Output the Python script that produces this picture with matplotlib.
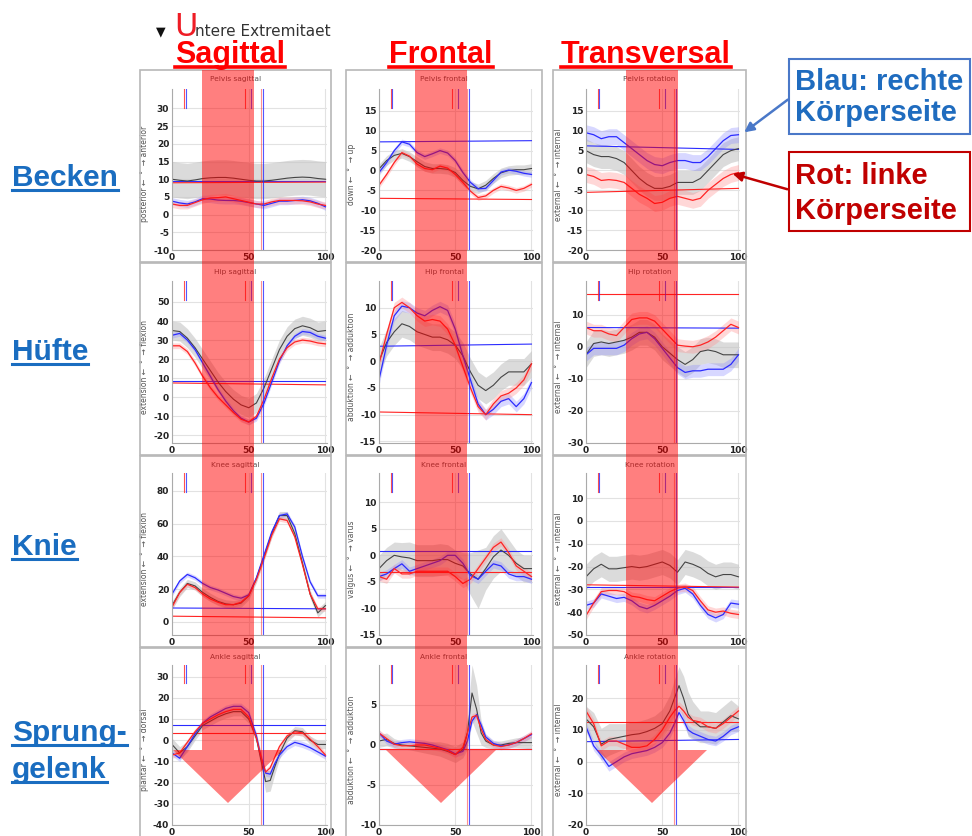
import numpy as np
import matplotlib.pyplot as plt
from matplotlib.patches import Rectangle, Polygon, FancyArrowPatch
from matplotlib.lines import Line2D

plt.rcParams['axes.unicode_minus'] = False

W, H = 972, 836


def fx(px):
    return px / W


def fy(py):
    return 1 - py / H


# gait cycle (%) sample points
pct = list(range(0, 101, 5))
pct_ank = [0, 5, 10, 15, 20, 25, 30, 35, 40, 45, 50, 55, 58, 61, 64, 67, 70, 75, 80, 85, 90, 95, 100]

# events (% gait cycle)
ev_short_left = [7.8, 47.8]
ev_short_right = [8.8, 51.8]
ev_full_left = 57.8
ev_full_right = 59.0

# ---- Pelvis ----
ps_norm = [10, 9.7, 9.5, 9.8, 10.2, 10.4, 10.5, 10.5, 10.3, 10, 9.7, 9.5, 9.5, 9.7, 10, 10.3, 10.5, 10.6, 10.5, 10.2, 10]
ps_right = [3.8, 3.3, 3.0, 3.6, 4.5, 4.4, 4.1, 4.0, 4.0, 3.8, 3.4, 3.0, 2.6, 3.2, 3.8, 3.8, 4.0, 4.2, 3.9, 3.2, 2.2]
ps_left = [3.0, 2.6, 2.6, 3.4, 4.2, 4.7, 4.8, 5.0, 4.5, 4.0, 3.5, 3.0, 3.0, 3.6, 4.0, 4.0, 4.0, 3.9, 3.6, 3.0, 2.6]

pf_norm = [0.4, 2.5, 3.8, 4.3, 3.5, 2.2, 1.0, 0.5, 0.5, 0.3, -0.5, -2.5, -4.0, -4.6, -3.7, -2.0, -0.6, 0.0, 0.2, 0.2, 0.5]
pf_right = [-0.5, 2.0, 5.0, 7.2, 6.6, 4.5, 3.5, 4.2, 5.0, 4.4, 2.5, -0.5, -3.0, -4.6, -4.5, -2.5, -0.4, 0.1, -0.2, -0.7, -1.0]
pf_left = [-3.7, -1.0, 2.0, 4.5, 3.6, 1.6, 0.5, 0.2, 1.1, 0.6, -1.0, -3.0, -5.2, -6.8, -6.4, -5.0, -4.0, -4.4, -5.0, -4.5, -3.5]

pr_norm = [5.0, 4.0, 3.5, 3.5, 3.0, 2.0, 0.0, -2.0, -3.5, -4.5, -4.5, -4.0, -3.0, -3.0, -3.0, -2.0, 0.0, 2.0, 4.0, 5.0, 5.5]
pr_right = [9.5, 9.0, 8.0, 8.5, 8.5, 7.0, 5.5, 4.0, 2.5, 1.5, 1.2, 2.0, 2.5, 2.5, 2.0, 2.0, 3.5, 5.5, 7.5, 8.8, 9.0]
pr_left = [-1.0, -1.5, -2.5, -2.3, -2.5, -3.0, -4.5, -6.0, -7.0, -8.3, -8.0, -7.0, -6.5, -7.0, -7.5, -7.0, -5.0, -3.5, -2.0, -1.0, -0.5]

# ---- Hip ----
hs_norm = [35, 34.5, 31, 26, 20, 14, 8, 3, -1, -4, -5.5, -3, 5, 15, 25, 32, 36, 37.5, 36.5, 34.5, 35]
hs_right = [32.5, 33.5, 30, 25, 18, 11, 4, -2, -7, -11, -13, -11, -3, 8, 19, 27, 32, 34.5, 34, 32, 31]
hs_left = [27, 27, 24, 18, 11, 5, 0, -4, -8, -11.5, -13, -10, -1, 10, 20, 26, 29, 30, 29.5, 28.5, 28]

hf_norm = [0, 3.5, 5.5, 7, 6.5, 5.5, 5, 4.5, 4.5, 4, 3, 1, -2, -4.5, -5.5, -4.5, -3, -2, -2, -2, -0.5]
hf_right = [-3.5, 3, 8.5, 10.3, 10, 9, 8.5, 9.5, 10.2, 9.5, 6, 1, -3.5, -8, -10, -9, -7.5, -7, -8.5, -7, -4]
hf_left = [-0.5, 5, 10, 11, 10, 8.5, 7.5, 7.8, 7.5, 6, 3, -1, -5, -8.5, -10, -8, -6.5, -6, -5, -3.5, -0.5]

hr_norm = [-2.5, 1, 1.5, 1, 1.5, 2, 3, 4.5, 4.5, 3, 0, -2, -4, -5.5, -4, -1.5, -1, -1.5, -2.5, -2.5, -2.5]
hr_right = [-2.5, -0.5, -0.5, -0.5, -0.5, 0.5, 2.5, 4, 4.5, 2.5, -0.5, -3.5, -6.5, -8, -7.5, -7.5, -7, -7, -7, -5.5, -2.5]
hr_left = [6, 5, 5, 4, 3.5, 6, 8.5, 9, 9, 8, 5.5, 3, 0.5, 0.2, 0, 0.5, 1.5, 3, 5, 7, 6]

# ---- Knee ----
ks_norm = [10, 18, 23.5, 22, 18, 15, 12.5, 11, 10.5, 11.5, 16, 26.5, 40, 54, 65, 65, 54, 36, 17, 5.5, 10]
ks_right = [17, 25, 29, 27, 23.5, 21, 19.5, 17.5, 15.5, 14.5, 16.5, 27, 41, 55, 65, 66, 58, 40, 24.5, 16, 16]
ks_left = [9, 18, 23, 21, 17, 14, 12, 10.5, 10.5, 12, 16, 26, 39, 53, 63, 62, 52, 35, 17, 8, 8]

kf_norm = [-2.5, -1, 0, -0.3, -0.5, -1, -1, -1, -0.8, -0.8, -1.5, -2, -3.5, -4.5, -2.5, -0.3, 1, 0, -1.5, -2.5, -2.5]
kf_norm_sd = [2.5, 2.5, 2.5, 2.7, 3, 3, 3, 3, 3, 2.8, 2.5, 2.5, 4, 5.5, 4, 4, 4, 3, 2.5, 2.5, 2.5]
kf_right = [-4, -3.5, -2.5, -1.6, -3, -2.5, -2, -1.5, -1, 0, 0, -1.5, -3.8, -4.5, -3, -1.6, -2, -3.5, -4, -4, -4.5]
kf_left = [-4, -4.5, -2.5, -3.5, -3.5, -3, -3, -3, -3, -3, -4, -5.3, -4.5, -2.5, -0.5, 1.5, 2.5, 0.5, -2, -3, -4]

kr_norm = [-24.5, -21, -19, -21, -21, -20.5, -20, -20.5, -20, -19, -18, -19.5, -22.5, -18, -19, -20.5, -23, -24.5, -23.5, -23.5, -24.5]
kr_right = [-37, -36, -32, -33, -34, -33.5, -35, -37.5, -38.5, -37, -35, -33, -30.5, -29.5, -32, -37, -41, -42.5, -41, -36, -36.5]
kr_left = [-41.5, -36, -31, -30.5, -30.5, -31, -33, -33.5, -34.5, -35, -33, -31, -29.5, -29, -30.5, -35, -39, -40, -39.5, -40.5, -41]

# ---- Ankle (denser around toe off) ----
as_norm = [-2, -6, -3, 2, 7, 9, 11, 12.5, 13.5, 13.5, 10, 1, -9.5, -19.5, -19, -12.5, -6.5, 1, 4.5, 4, 0, -2, -2]
as_norm_sd = [3, 3, 2.5, 2, 2, 2, 2, 2, 2, 2, 2, 2.5, 3.5, 5, 5, 3.5, 2.5, 2, 2, 2, 2, 2, 2]
as_right = [-6, -8.5, -3, 3, 8, 11, 13, 15, 16, 16, 13, 2, -8, -15.5, -16, -11, -7, -3, -1, -2, -3.5, -5.5, -7.5]
as_left = [-7, -6, -1, 4, 8, 10, 12, 13.5, 14.5, 14.5, 11, 1, -8, -15, -13, -8, -3, 2, 4, 3.5, 0.5, -3, -7]

af_norm = [0.5, 0.7, 0.2, 0.0, -0.1, -0.2, -0.3, -0.4, -0.5, -0.8, -1.2, -0.6, 1.5, 6.5, 4.5, 1.5, 0.5, 0, 0, 0.2, 0.3, 0.3, 0.3]
af_norm_sd = [0.8, 0.8, 0.6, 0.5, 0.5, 0.6, 0.7, 0.8, 0.9, 1.0, 1.0, 1.0, 2.0, 3.5, 3.0, 1.5, 0.8, 0.5, 0.5, 0.5, 0.6, 0.7, 0.8]
af_right = [1.5, 0.5, 0.1, 0.3, 0.4, 0.3, 0.2, 0, -0.3, -0.6, -1.1, -0.8, 0.5, 3, 3.8, 2.5, 1, 0.2, -0.1, 0, 0.3, 0.8, 1.3]
af_left = [1.5, 0.8, 0.1, -0.1, -0.1, 0, 0, -0.2, -0.4, -0.7, -1.2, -0.3, 1.5, 3.5, 3.7, 2, 0.7, 0, -0.2, 0, 0.3, 0.8, 1.4]

ar_norm = [13.5, 11, 5.5, 7, 7.5, 8, 8.5, 8.8, 9.5, 10.5, 12, 16, 20, 24, 20, 15, 13, 11, 11, 10.5, 12.5, 14.5, 13.5]
ar_norm_sd = [4, 4.5, 5, 5, 4.5, 4, 4, 4, 4, 4, 4.5, 5, 6, 6, 7, 7, 6, 5, 5, 5, 5, 5, 4]
ar_right = [11, 5, 2, -1.5, 0, 1.5, 2.5, 3, 3.5, 4.5, 6, 9, 12, 15.5, 13, 10, 9, 8, 7, 6.5, 8, 10, 11]
ar_left = [16, 12, 5, 6.5, 6.5, 5.5, 4.5, 4.5, 5, 7, 10, 14, 16, 17.5, 16, 14, 13, 12.5, 11, 10.5, 12, 14, 16]

# reference levels (start, end) for right / left side
lvl_right = [[9.5, 9.5], [7.2, 7.5], [6.2, 5.3],
             [8.5, 8.5], [2.8, 3.2], [6.0, 5.8],
             [8.5, 8.0], [0.8, 0.8], [-29, -29],
             [7.0, 7.0], [-0.5, -0.5], [6.3, 7.0]]
lvl_left = [[9.0, 9.2], [-7.0, -7.3], [-5.5, -4.5],
            [7.5, 6.5], [-9.5, -10], [16.5, 16.5],
            [3.5, 2.5], [-3.2, -3.2], [-28, -29],
            [3.5, 3.5], [-0.5, -0.5], [12.5, 12.5]]

titles = ["Pelvis sagittal", "Pelvis frontal", "Pelvis rotation",
          "Hip sagittal", "Hip frontal", "Hip rotation",
          "Knee sagittal", "Knee frontal", "Knee rotation",
          "Ankle sagittal", "Ankle frontal", "Ankle rotation"]
ylabels = ["posterior \u2190  \u00b0  \u2192 anterior", "down \u2190  \u00b0  \u2192 up", "external \u2190  \u00b0  \u2192 internal",
           "extension \u2190  \u00b0  \u2192 flexion", "abduktion \u2190  \u00b0  \u2192 adduktion", "external \u2190  \u00b0  \u2192 internal",
           "extension \u2190  \u00b0  \u2192 flexion", "valgus \u2190  \u00b0  \u2192 varus", "external \u2190  \u00b0  \u2192 internal",
           "plantar \u2190  \u00b0  \u2192 dorsal", "abduktion \u2190  \u00b0  \u2192 adduktion", "external \u2190  \u00b0  \u2192 internal"]
ylims = [(-10, 35.5), (-20, 20.5), (-20, 20.5),
         (-24, 61), (-15.3, 15), (-30, 20.5),
         (-8, 91), (-15, 15.5), (-50, 21),
         (-40, 35.5), (-10, 10), (-20, 30.5)]
yticks = [range(-10, 31, 5), range(-20, 16, 5), range(-20, 16, 5),
          range(-20, 51, 10), range(-15, 11, 5), range(-30, 11, 10),
          range(0, 81, 20), range(-15, 11, 5), range(-50, 11, 10),
          range(-40, 31, 10), range(-10, 6, 5), range(-20, 21, 10)]

xs = [pct] * 9 + [pct_ank] * 3
norms = [ps_norm, pf_norm, pr_norm, hs_norm, hf_norm, hr_norm, ks_norm, kf_norm, kr_norm, as_norm, af_norm, ar_norm]
norm_sds = [5, 1.2, 3, 5, 2.5, 4, 2.5, kf_norm_sd, 5.5, as_norm_sd, af_norm_sd, ar_norm_sd]
rights = [ps_right, pf_right, pr_right, hs_right, hf_right, hr_right, ks_right, kf_right, kr_right, as_right, af_right, ar_right]
lefts = [ps_left, pf_left, pr_left, hs_left, hf_left, hr_left, ks_left, kf_left, kr_left, as_left, af_left, ar_left]
side_sds = [1.0, 0.7, 2, 1.5, 1, 2, 1.5, 0.8, 1.8, 1.5, 0.4, 1.5]

BLUE = '#2b2bff'
RED = '#ff2424'

fig = plt.figure(figsize=(W / 100, H / 100), dpi=100)

col_box = [(140, 331), (346, 542), (553, 746)]
row_box = [(70, 262), (263, 455), (456, 647), (648, 845)]
col_ax = [(172, 327), (379, 533), (586, 740)]
row_ax = [(89, 250), (281, 443), (473, 635), (665, 825)]

for i in range(12):
    r, c = divmod(i, 3)
    bx0, bx1 = col_box[c]
    by0, by1 = row_box[r]
    fig.add_artist(Rectangle((fx(bx0), fy(by1)), (bx1 - bx0) / W, (by1 - by0) / H,
                             transform=fig.transFigure, fill=False, ec='#b8b8b8', lw=1.2))
    fig.text(fx((bx0 + bx1) / 2), fy(by0 + 9), titles[i], ha='center', va='center',
             fontsize=5.3, color='#555555')

    x0, x1 = col_ax[c]
    y0, y1 = row_ax[r]
    ax = fig.add_axes([fx(x0), fy(y1), (x1 - x0) / W, (y1 - y0) / H])
    x = np.array(xs[i])
    norm = np.array(norms[i])
    nsd = np.array(norm_sds[i])
    right = np.array(rights[i])
    left = np.array(lefts[i])
    sd = side_sds[i]

    ax.fill_between(x, norm - nsd, norm + nsd, color='#c4c4c4', alpha=0.6, lw=0)
    ax.fill_between(x, right - sd, right + sd, color='#8f8fff', alpha=0.35, lw=0)
    ax.fill_between(x, left - sd, left + sd, color='#ff8f8f', alpha=0.35, lw=0)
    ax.plot([0, 100], lvl_right[i], color=BLUE, lw=0.8)
    ax.plot([0, 100], lvl_left[i], color=RED, lw=0.8)
    ax.plot(x, norm, color='#444444', lw=0.8)
    ax.plot(x, right, color=BLUE, lw=0.9)
    ax.plot(x, left, color=RED, lw=0.9)

    for e in ev_short_left:
        ax.axvline(e, ymin=0.885, ymax=1, color=RED, lw=0.8, alpha=0.8)
    for e in ev_short_right:
        ax.axvline(e, ymin=0.885, ymax=1, color=BLUE, lw=0.8, alpha=0.8)
    ax.axvline(ev_full_left, color=RED, lw=0.8, alpha=0.5)
    ax.axvline(ev_full_right, color=BLUE, lw=0.8, alpha=0.8)

    ax.set_xlim(0, 101)
    ax.set_ylim(*ylims[i])
    ax.set_xticks([0, 50, 100])
    ax.set_yticks(list(yticks[i]))
    ax.grid(True, color='#e2e2e2', lw=0.8)
    ax.set_axisbelow(True)
    ax.tick_params(length=0, pad=2, labelsize=6.5, labelcolor='#222222')
    for lab in ax.get_xticklabels() + ax.get_yticklabels():
        lab.set_fontweight('bold')
    for s in ['top', 'right']:
        ax.spines[s].set_visible(False)
    for s in ['left', 'bottom']:
        ax.spines[s].set_color('#aaaaaa')
        ax.spines[s].set_linewidth(0.8)
    ax.set_ylabel(ylabels[i], fontsize=5.5, color='#555555')
    ax.yaxis.set_label_coords(-0.15, 0.47)

# translucent red arrows over each column
arrow_cx = [228, 441, 652]
for cx in arrow_cx:
    pts = [(cx - 26, 70), (cx + 26, 70), (cx + 26, 750), (cx + 55, 750),
           (cx, 803), (cx - 55, 750), (cx - 26, 750)]
    fig.add_artist(Polygon([(fx(px), fy(py)) for px, py in pts], closed=True,
                           transform=fig.transFigure, fc='#ff0000', alpha=0.5, lw=0, zorder=5))

# header
fig.text(fx(156), fy(35), "\u25bc", fontsize=9, color='#111111', va='baseline')
fig.text(fx(174), fy(36), "U", fontsize=23, color='#ee1c25', va='baseline')
fig.text(fx(195), fy(36), "ntere Extremitaet", fontsize=11, color='#333333', va='baseline')

underlined = []
for name, cx in zip(["Sagittal", "Frontal", "Transversal"], [230, 441, 646]):
    t = fig.text(fx(cx), fy(63), name, ha='center', va='baseline', fontsize=22,
                 fontweight='bold', color='#ff0000', family='Liberation Sans')
    underlined.append((t, 67, '#ff0000', 2.6))

LINK = '#1a6dc0'
for name, by in [("Becken", 186), ("H\u00fcfte", 360), ("Knie", 555), ("Sprung-", 741), ("gelenk", 778)]:
    t = fig.text(fx(12), fy(by), name, ha='left', va='baseline', fontsize=21.5,
                 fontweight='bold', color=LINK, family='Liberation Sans')
    underlined.append((t, by + 4, LINK, 2.2))

# side legend boxes
fig.add_artist(Rectangle((fx(789), fy(134)), (970 - 789) / W, (134 - 59) / H,
                         transform=fig.transFigure, fill=False, ec='#4a78c8', lw=1.5))
fig.text(fx(795), fy(90), "Blau: rechte", fontsize=21, fontweight='bold', color='#1f6cbf',
         family='Liberation Sans', va='baseline')
fig.text(fx(795), fy(121), "K\u00f6rperseite", fontsize=21, fontweight='bold', color='#1f6cbf',
         family='Liberation Sans', va='baseline')
fig.add_artist(Rectangle((fx(789), fy(231)), (970 - 789) / W, (231 - 152) / H,
                         transform=fig.transFigure, fill=False, ec='#c00000', lw=1.5))
fig.text(fx(795), fy(184), "Rot: linke", fontsize=21, fontweight='bold', color='#c00000',
         family='Liberation Sans', va='baseline')
fig.text(fx(795), fy(219), "K\u00f6rperseite", fontsize=21, fontweight='bold', color='#c00000',
         family='Liberation Sans', va='baseline')
fig.add_artist(FancyArrowPatch((fx(790), fy(98)), (fx(742), fy(134)), transform=fig.transFigure,
                               arrowstyle='-|>', mutation_scale=14, color='#4a78c8', lw=1.8))
fig.add_artist(FancyArrowPatch((fx(790), fy(190)), (fx(730), fy(173)), transform=fig.transFigure,
                               arrowstyle='-|>', mutation_scale=14, color='#c00000', lw=1.8))

# underlines
fig.canvas.draw()
rend = fig.canvas.get_renderer()
for t, uy, col, lw in underlined:
    bb = t.get_window_extent(rend)
    fig.add_artist(Line2D([bb.x0 / W, bb.x1 / W], [fy(uy), fy(uy)], transform=fig.transFigure,
                          color=col, lw=lw))

fig.savefig("out.png", dpi=100)
